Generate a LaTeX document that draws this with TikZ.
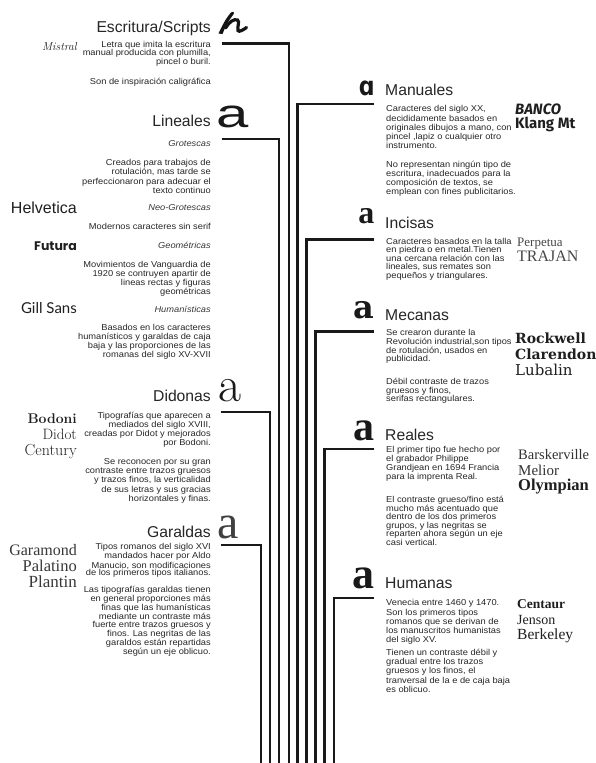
\documentclass[tikz,border=0pt]{standalone}
\usepackage{fontspec}
\newfontfamily\sansf{Liberation Sans}
\newfontfamily\bodyf[FakeStretch=1.08]{Liberation Sans}
\newfontfamily\lserif{Liberation Serif}
\newfontfamily\dserif{DejaVu Serif}
\newfontfamily\dsans{DejaVu Sans}
\newfontfamily\firaf{Fira Sans}
\newfontfamily\poppf{Poppins}
\newfontfamily\latof{Lato}
\newcommand{\fs}[1]{\fontsize{#1}{#1}\selectfont}
\tikzset{
  conn/.style={line width=2.4pt, draw=black!90},
  ttl/.style={font=\sansf\fs{15.7}, inner sep=0pt, text=black!85},
  lttl/.style={ttl, anchor=base east},
  rttl/.style={ttl, anchor=base west},
  desc/.style={font=\bodyf\fontsize{8.6}{#1}\selectfont, inner sep=0pt, text=black!85},
  desc/.default=9,
  ldesc/.style={desc=#1, align=right, anchor=base east},
  ldesc/.default=9,
  rdesc/.style={desc=#1, align=left, anchor=base west},
  rdesc/.default=9,
  lsub/.style={font=\bodyf\itshape\fs{8.6}, inner sep=0pt, text=black!78, anchor=base east},
  bigl/.style={inner sep=0pt, anchor=base west, text=black!90},
  bigr/.style={inner sep=0pt, anchor=base east, text=black!90},
  lsamp/.style={inner sep=0pt, anchor=base east, text=black!88},
  rsamp/.style={inner sep=0pt, anchor=base west, text=black!88},
}
\begin{document}
% multi-line nodes are placed by the baseline of their LAST line
\begin{tikzpicture}[x=1pt,y=-1pt]
\fill[white] (0,0) rectangle (596,763);
\useasboundingbox (0,0) rectangle (596,763);

% ---------- connectors ----------
\coordinate (escA) at (221.5,43.5); \coordinate (escB) at (289,770);
\coordinate (linA) at (221.5,139);  \coordinate (linB) at (279,770);
\coordinate (didA) at (220.5,412);  \coordinate (didB) at (270,770);
\coordinate (garA) at (220.5,545);  \coordinate (garB) at (261,770);
\coordinate (manA) at (373.5,104);  \coordinate (manB) at (297.5,770);
\coordinate (incA) at (374,239.5);  \coordinate (incB) at (306.5,770);
\coordinate (mecA) at (374,331.5);  \coordinate (mecB) at (315.5,770);
\coordinate (reaA) at (374,449);    \coordinate (reaB) at (324.5,770);
\coordinate (humA) at (374,598);    \coordinate (humB) at (334,770);
\draw[conn] (escA) -| (escB);
\draw[conn] (linA) -| (linB);
\draw[conn] (didA) -| (didB);
\draw[conn] (garA) -| (garB);
\draw[conn] (manA) -| (manB);
\draw[conn] (incA) -| (incB);
\draw[conn] (mecA) -| (mecB);
\draw[conn] (reaA) -| (reaB);
\draw[conn] (humA) -| (humB);

% ---------- titles ----------
\node[lttl] (esc) at (211,32) {Escritura/Scripts};
\node[lttl] (lin) at (211,126) {Lineales};
\node[lttl] (did) at (211,401.5) {Didonas};
\node[lttl] (gar) at (211,537.5) {Garaldas};
\node[rttl] (man) at (385,95) {Manuales};
\node[rttl] (inc) at (385,228) {Incisas};
\node[rttl] (mec) at (385,320.5) {Mecanas};
\node[rttl] (rea) at (385,440) {Reales};
\node[rttl] (hum) at (385,588) {Humanas};

% ---------- big letters ----------
\fill[black!92] (218.5,33.5) .. controls (222,26) and (226,18) .. (231,12.5)
   .. controls (233.5,11) and (235,12.5) .. (233,15)
   .. controls (229,20) and (225,27) .. (222.5,34) -- cycle;
\draw[black!92, line width=3.2pt, line cap=round]
   (225.5,28) .. controls (229,22) and (234,18.5) .. (237.5,20)
   .. controls (240,21.5) and (237,27) .. (238,30.5)
   .. controls (239,32.5) and (243,30) .. (246.5,27.5);
\node[bigl, font=\sansf\fs{40}] (lina) at (216.5,127) {\scalebox{1.45}[1]{a}};
\node[bigl, font=\rmfamily\fs{50}] (dida) at (218,401) {a};
\node[bigl, font=\lserif\fs{48}, text=black!75] (gara) at (217,538) {a};
\node[bigr, font=\dsans\bfseries\fs{26}] (mana) at (375,95) {\scalebox{0.85}[1]{ɑ}};
\node[bigr, font=\lserif\bfseries\fs{32}] (inca) at (374.5,223) {a};
\node[bigr, font=\dserif\bfseries\fs{32}] (meca) at (374.5,318) {a};
\node[bigr, font=\lserif\bfseries\fs{42}] (reaa) at (375,440) {a};
\node[bigr, font=\lserif\bfseries\fs{44}] (huma) at (375,588) {a};

% ---------- left descriptions ----------
\node[ldesc=8.3] (escd1) at (211,64.1) {Letra que imita la escritura\\manual producida con plumilla,\\pincel o buril.};
\node[ldesc] (escd2) at (211,84) {Son de inspiración caligráfica};
\node[lsub] (grot) at (211,146.5) {Grotescas};
\node[ldesc=9.1] (grotd) at (211,193.1) {Creados para trabajos de\\rotulación, mas tarde se\\perfeccionaron para adecuar el\\texto continuo};
\node[lsub] (neo) at (211,210.8) {Neo-Grotescas};
\node[ldesc] (neod) at (211,229.8) {Modernos caracteres sin serif};
\node[lsub] (geo) at (211,248.5) {Geométricas};
\node[ldesc=9.1] (geod) at (211,294.8) {Movimientos de Vanguardia de\\1920 se contruyen apartir de\\lineas rectas y figuras\\geométricas};
\node[lsub] (hums) at (211,312.5) {Humanísticas};
\node[ldesc=8.9] (humsd) at (211,357.2) {Basados en los caracteres\\humanísticos y garaldas de caja\\baja y las proporciones de las\\romanas del siglo XV-XVII};
\node[ldesc=9.1] (didd1) at (211,445.8) {Tipografías que aparecen a\\mediados del siglo XVIII,\\creadas por Didot y mejorados\\por Bodoni.};
\node[ldesc=9.3] (didd2) at (211,501.4) {Se reconocen por su gran\\contraste entre trazos gruesos\\y trazos finos, la verticalidad\\de sus letras y sus gracias\\horizontales y finas.};
\node[ldesc=7.4] (gard1) at (211,575.4) {Tipos romanos del siglo XVI\\mandados hacer por Aldo\\Manucio, son modificaciones\\de los primeros tipos italianos.};
\node[ldesc=7.7] (gard2) at (211,654.7) {Las tipografías garaldas tienen\\en general proporciones más\\finas que las humanísticas\\mediante un contraste más\\fuerte entre trazos gruesos y\\finos. Las negritas de las\\garaldos están repartidas\\según un eje oblicuo.};

% ---------- right descriptions ----------
\node[rdesc=9.2] (mand1) at (386,148.6) {Caracteres del siglo XX,\\decididamente basados en\\originales dibujos a mano, con\\pincel ,lapiz o cualquier otro\\instrumento.};
\node[rdesc=9.1] (mand2) at (386,194.8) {No representan ningún tipo de\\escritura, inadecuados para la\\composición de textos, se\\emplean con fines publicitarios.};
\node[rdesc=8.5] (incd) at (386,278.2) {Caracteres basados en la talla\\en piedra o en metal.Tienen\\una cercana relación con las\\lineales, sus remates son\\pequeños y triangulares.};
\node[rdesc=8.6] (mecd1) at (386,361.6) {Se crearon durante la\\Revolución industrial,son tipos\\de rotulación, usados en\\publicidad.};
\node[rdesc=8.8] (mecd2) at (386,401.8) {Débil contraste de trazos\\gruesos y finos,\\serifas rectangulares.};
\node[rdesc=8] (read1) at (386,479.8) {El primer tipo fue hecho por\\el grabador Philippe\\Grandjean en 1694 Francia\\para la imprenta Real.};
\node[rdesc=8.5] (read2) at (386,545) {El contraste grueso/fino está\\mucho más acentuado que\\dentro de los dos primeros\\grupos, y las negritas se\\reparten ahora según un eje\\casi vertical.};
\node[rdesc=9.2] (humd1) at (386,642.6) {Venecia entre 1460 y 1470.\\Son los primeros tipos\\romanos que se derivan de\\los manuscritos humanistas\\del siglo XV.};
\node[rdesc=9.3] (humd2) at (386,692.4) {Tienen un contraste débil y\\gradual entre los trazos\\gruesos y los finos, el\\tranversal de la e de caja baja\\es oblicuo.};

% ---------- left samples ----------
\node[lsamp, font=\rmfamily\itshape\fs{11.5}] (mistral) at (77,50) {Mistral};
\node[lsamp, font=\sansf\fs{16}] (helv) at (77,213) {Helvetica};
\node[lsamp, font=\poppf\bfseries\fs{12.5}] (futura) at (77,250.5) {Futura};
\node[lsamp, font=\latof\fs{15}] (gill) at (77,313) {Gill Sans};
\node[lsamp, font=\rmfamily\bfseries\fs{14}] (bodoni) at (77,423) {Bodoni};
\node[lsamp, font=\rmfamily\fs{15}] (didot) at (77,439) {Didot};
\node[lsamp, font=\rmfamily\fs{16}] (century) at (77,455) {Century};
\node[lsamp, font=\lserif\fs{16}, text=black!78] (garamond) at (77,555.5) {Garamond};
\node[lsamp, font=\lserif\fs{16.5}, text=black!78] (palatino) at (77,571) {Palatino};
\node[lsamp, font=\lserif\fs{17}, text=black!78] (plantin) at (77,587) {Plantin};

% ---------- right samples ----------
\node[rsamp, font=\firaf\bfseries\itshape\fs{15}] (banco) at (515,114) {BANCO};
\node[rsamp, font=\firaf\bfseries\fs{15}] (klang) at (515,128.5) {Klang Mt};
\node[rsamp, font=\lserif\fs{13}, text=black!72] (perpetua) at (517,246.5) {Perpetua};
\node[rsamp, font=\lserif\fs{16}, text=black!72] (trajan) at (517,261.5) {TRAJAN};
\node[rsamp, font=\dserif\bfseries\fs{14}] (rockwell) at (515,343) {Rockwell};
\node[rsamp, font=\dserif\bfseries\fs{14}] (clarendon) at (515,359.5) {Clarendon};
\node[rsamp, font=\dserif\fs{15}] (lubalin) at (515,375.5) {Lubalin};
\node[rsamp, font=\lserif\fs{14.5}, text=black!80] (bask) at (518,459.5) {Barskerville};
\node[rsamp, font=\lserif\fs{15}, text=black!80] (melior) at (518,475) {Melior};
\node[rsamp, font=\lserif\bfseries\fs{16.5}] (olympian) at (518,490.5) {Olympian};
\node[rsamp, font=\lserif\bfseries\fs{13.5}] (centaur) at (517,608.5) {Centaur};
\node[rsamp, font=\lserif\fs{14}] (jenson) at (517,624.5) {Jenson};
\node[rsamp, font=\lserif\fs{15.5}] (berkeley) at (517,639.5) {Berkeley};
\end{tikzpicture}
\end{document}
